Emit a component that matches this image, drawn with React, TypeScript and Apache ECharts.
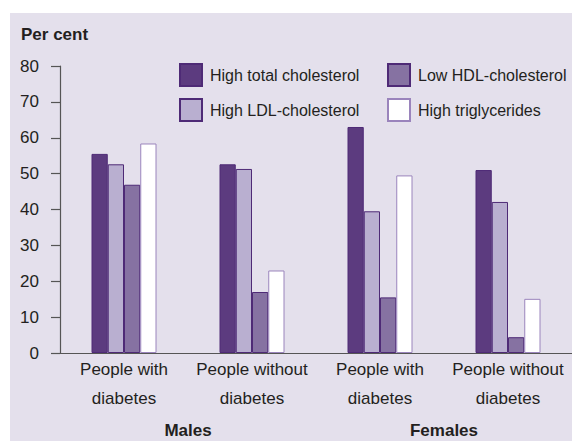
import React, { useEffect, useRef } from "react";
import * as echarts from "echarts";

const categories = [
  "People with\ndiabetes",
  "People without\ndiabetes",
  "People with\ndiabetes",
  "People without\ndiabetes",
];
const sexes = ["Males", "Females"];
const highTotal = [55.5, 52.6, 63.0, 51.0];
const highLDL = [52.6, 51.3, 39.5, 42.1];
const lowHDL = [46.9, 17.0, 15.5, 4.4];
const highTrig = [58.4, 23.0, 49.5, 15.1];
const yTicks = [0, 80, 10];

const FONT = "'Liberation Sans', Arial, sans-serif";
const FS = 17;
const TXT = "#231f20";
const BORDER = "#4e2a76";

export default function App() {
  const ref = useRef<HTMLDivElement>(null);
  useEffect(() => {
    if (!ref.current) return;
    const chart = echarts.init(ref.current, undefined, { renderer: "svg" });
    const mk = (name: string, data: number[], color: string, border: string) => ({
      name,
      type: "bar",
      data,
      barWidth: 16.25,
      barGap: "0%",
      itemStyle: { color, borderColor: border, borderWidth: 1 },
    });
    const legendCommon = {
      orient: "vertical",
      top: 63,
      itemWidth: 22,
      itemHeight: 22,
      itemGap: 11,
      icon: "rect",
      selectedMode: false,
      padding: 0,
      textStyle: { fontFamily: FONT, fontSize: 16, color: TXT, padding: [0, 0, 0, 3] },
    };
    chart.setOption({
      animation: false,
      backgroundColor: "transparent",
      textStyle: { fontFamily: FONT, color: TXT },
      title: {
        text: "Per cent",
        left: 21,
        top: 26,
        padding: 0,
        textStyle: { fontFamily: FONT, fontSize: FS, fontWeight: "bold", color: TXT },
      },
      legend: [
        { ...legendCommon, data: ["High total cholesterol", "High LDL-cholesterol"], left: 179 },
        { ...legendCommon, data: ["Low HDL-cholesterol", "High triglycerides"], left: 387 },
      ],
      grid: { left: 60, right: -3, top: 66, bottom: 88, containLabel: false },
      xAxis: [
        {
          type: "category",
          data: categories,
          axisLine: { show: true, lineStyle: { color: "#555555", width: 1.2 } },
          axisTick: { show: false },
          axisLabel: {
            fontFamily: FONT,
            fontSize: FS,
            color: TXT,
            lineHeight: 29,
            margin: 2,
            interval: 0,
          },
        },
        {
          type: "category",
          data: sexes,
          position: "bottom",
          offset: 63,
          axisLine: { show: false },
          axisTick: { show: false },
          axisLabel: {
            fontFamily: FONT,
            fontSize: FS,
            fontWeight: "bold",
            color: TXT,
            margin: 6,
          },
        },
      ],
      yAxis: {
        type: "value",
        min: yTicks[0],
        max: yTicks[1],
        interval: yTicks[2],
        splitLine: { show: false },
        axisLine: { show: true, lineStyle: { color: "#555555", width: 1.2 } },
        axisTick: { show: true, inside: false, length: 9, lineStyle: { color: "#555555", width: 1.2 } },
        axisLabel: { fontFamily: FONT, fontSize: FS, color: TXT, margin: 21 },
      },
      series: [
        mk("High total cholesterol", highTotal, "#5c3b7f", BORDER),
        mk("High LDL-cholesterol", highLDL, "#b9afd0", BORDER),
        mk("Low HDL-cholesterol", lowHDL, "#8672a2", BORDER),
        mk("High triglycerides", highTrig, "#ffffff", "#9a84bc"),
      ],
    });
    return () => chart.dispose();
  }, []);
  return (
    <div style={{ position: "absolute", left: 0, top: 0, width: 572, height: 441, background: "#ffffff", overflow: "hidden" }}>
      <div style={{ position: "absolute", left: 10, top: 13, width: 562, height: 428, background: "#e4e0ec" }} />
      <div ref={ref} style={{ position: "absolute", left: 0, top: 0, width: 572, height: 441 }} />
    </div>
  );
}
